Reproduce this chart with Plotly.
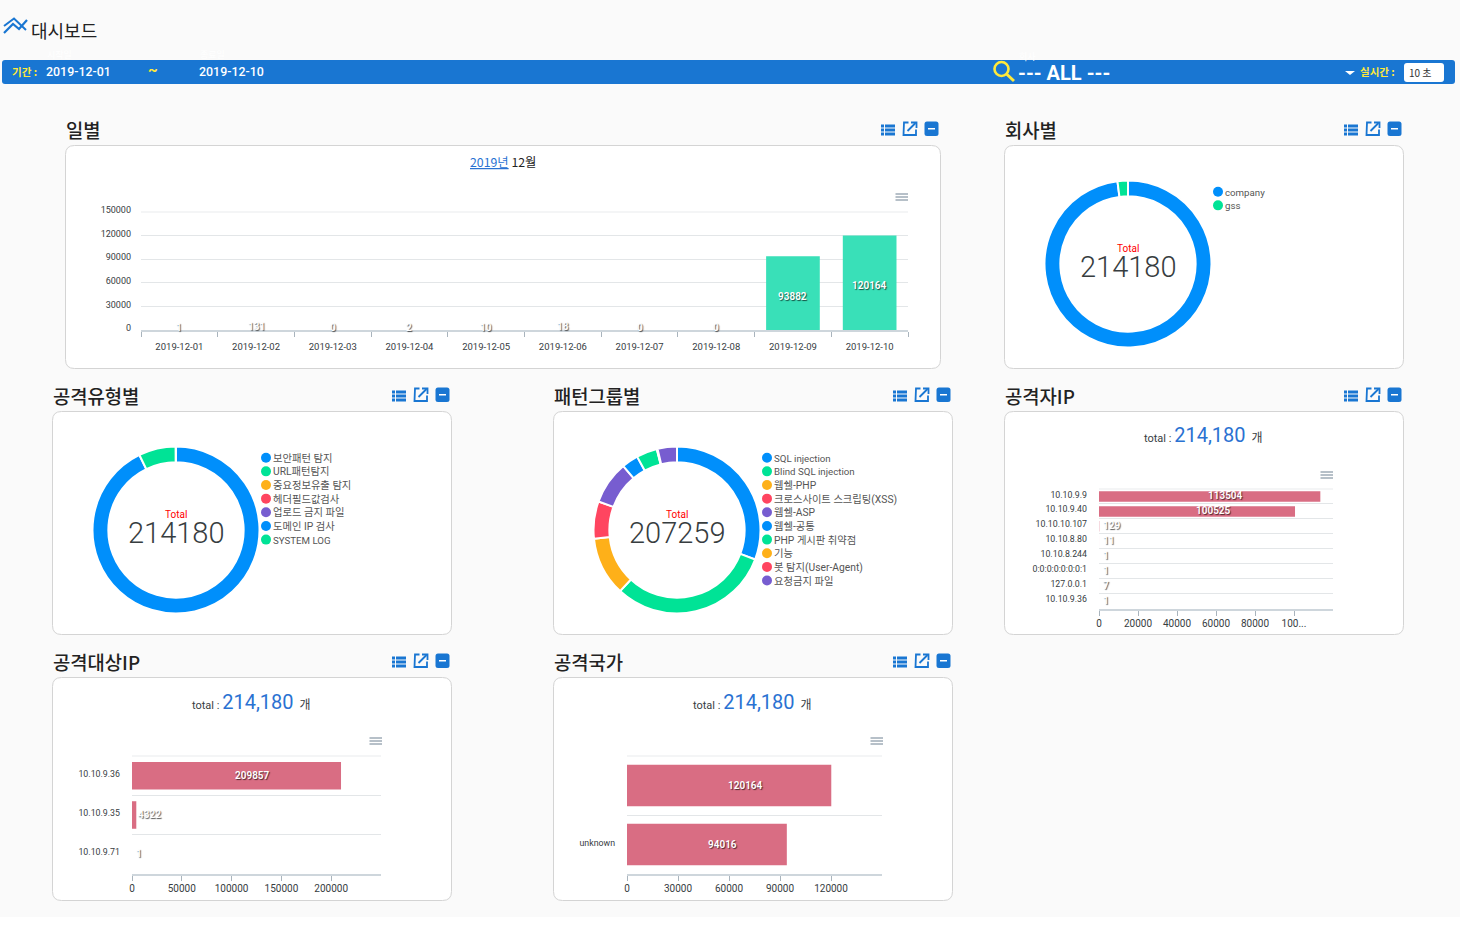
"""Security dashboard: daily, company, attack type, pattern, attacker, target and country panels."""
import plotly.graph_objects as go

WIDTH = 1460
HEIGHT = 926
FONT = "Roboto, 'Noto Sans CJK KR', sans-serif"
KR_FONT = "'Noto Sans CJK KR', Roboto, sans-serif"

BLUE = '#008FFB'
GREEN = '#00E396'
ORANGE = '#FEB019'
RED = '#FF4560'
PURPLE = '#775DD0'
PALETTE = [BLUE, GREEN, ORANGE, RED, PURPLE]
BAR_GREEN = 'rgba(55, 224, 183, 0.99)'  # not quite opaque, so tiny bars are not widened to 1px
BAR_PINK = 'rgba(217, 107, 130, 0.99)'
BANNER = '#1976D2'
YELLOW = '#FFE93B'
TEXT = '#373D3F'
GRID = '#E3E6E8'
AXIS = '#CED6DC'
BORDER = '#D4D4D4'

# Data
total_count = 214180

day_labels = ['2019-12-01', '2019-12-02', '2019-12-03', '2019-12-04', '2019-12-05',
              '2019-12-06', '2019-12-07', '2019-12-08', '2019-12-09', '2019-12-10']
day_values = [1, 131, 0, 2, 10, 18, 0, 0, 93882, 120164]
day_ticks = [0, 30000, 60000, 90000, 120000, 150000]

company_labels = ['company', 'gss']
company_values = [209857, 4323]

attack_labels = ['보안패턴 탐지', 'URL패턴탐지', '중요정보유출 탐지', '헤더필드값검사',
                 '업로드 금지 파일', '도메인 IP 검사', 'SYSTEM LOG']
attack_values = [198720, 15390, 40, 12, 8, 6, 4]

pattern_labels = ['SQL injection', 'Blind SQL injection', '웹쉘-PHP', '크로스사이트 스크립팅(XSS)',
                  '웹쉘-ASP', '웹쉘-공통', 'PHP 게시판 취약점', '기능', '봇 탐지(User-Agent)', '요청금지 파일']
pattern_values = [63730, 64650, 23600, 14970, 17270, 6620, 8350, 170, 120, 7779]

source_ips = ['10.10.9.9', '10.10.9.40', '10.10.10.107', '10.10.8.80',
              '10.10.8.244', '0:0:0:0:0:0:0:1', '127.0.0.1', '10.10.9.36']
source_values = [113504, 100525, 129, 11, 1, 1, 7, 1]
source_ticks = [0, 20000, 40000, 60000, 80000, 100000]
source_tick_labels = ['0', '20000', '40000', '60000', '80000', '100...']

target_ips = ['10.10.9.36', '10.10.9.35', '10.10.9.71']
target_values = [209857, 4322, 1]
target_ticks = [0, 50000, 100000, 150000, 200000]

country_labels = [' ', 'unknown']
country_values = [120164, 94016]
country_ticks = [0, 30000, 60000, 90000, 120000]


def px(x):
    """Pixel column to paper fraction."""
    return x / WIDTH


def py(y):
    """Pixel row (from the top) to paper fraction."""
    return 1 - y / HEIGHT


shapes = []
annotations = []


def round_rect(x0, y0, x1, y1, r):
    """Return an SVG path for a rounded rectangle given in pixels."""
    return (f'M {px(x0 + r)} {py(y0)} L {px(x1 - r)} {py(y0)} Q {px(x1)} {py(y0)} {px(x1)} {py(y0 + r)} '
            f'L {px(x1)} {py(y1 - r)} Q {px(x1)} {py(y1)} {px(x1 - r)} {py(y1)} '
            f'L {px(x0 + r)} {py(y1)} Q {px(x0)} {py(y1)} {px(x0)} {py(y1 - r)} '
            f'L {px(x0)} {py(y0 + r)} Q {px(x0)} {py(y0)} {px(x0 + r)} {py(y0)} Z')


def add_path(points, color, width=0, fill=None):
    """Add a path through pixel points. Closed and filled when fill is given."""
    path = 'M ' + ' L '.join(f'{px(x)} {py(y)}' for x, y in points)
    if fill:
        path += ' Z'
    shapes.append(dict(type='path', xref='paper', yref='paper', path=path, layer='above',
                       line=dict(color=color, width=width), fillcolor=fill))


def add_box(x0, y0, x1, y1, fill, radius=0, line=None, line_width=0, layer='below'):
    """Add a (rounded) rectangle given in pixels."""
    shapes.append(dict(type='path', xref='paper', yref='paper', layer=layer,
                       path=round_rect(x0, y0, x1, y1, radius), fillcolor=fill,
                       line=dict(color=line or fill, width=line_width)))


def add_text(x, y, text, size=10, color=TEXT, anchor='left', family=FONT, weight=None):
    """Add a text label at a pixel position."""
    font = dict(family=family, size=size, color=color)
    if weight:
        font['weight'] = weight
    annotations.append(dict(x=px(x), y=py(y), xref='paper', yref='paper', text=text, showarrow=False,
                            xanchor=anchor, yanchor='middle', borderpad=0, borderwidth=0, font=font))


def add_bar_label(axis, x, y, value, anchor='center', xshift=0, yshift=0):
    """Add a shadowed data label, placed on the chart's own axes."""
    annotations.append(dict(x=x, y=y, xref=f'x{axis}', yref=f'y{axis}', text=str(value), showarrow=False,
                            xanchor=anchor, yanchor='middle', xshift=xshift, yshift=yshift,
                            font=dict(family=FONT, size=10, color='white', weight=600,
                                      shadow='1px 1px 1px rgba(0,0,0,0.65)')))


def add_menu(right, y):
    """Add the small hamburger icon of a chart."""
    for offset in [0, 3, 6]:
        add_path([(right - 12.5, y + offset), (right, y + offset)], '#6E8192', 1)


def add_panel(x0, y0, x1, y1, title):
    """Add a card with its title and its three header icons."""
    add_box(x0, y0, x1, y1, 'white', radius=9, line=BORDER, line_width=1)
    add_text(x0 + 0.5, y0 - 16.5, title, size=18.8, color='#222222', family=KR_FONT, weight=500)

    # list icon
    left = x1 - 59.5
    top = y0 - 21
    for row in range(3):
        row_y = top + row * 4
        add_box(left, row_y, left + 3, row_y + 3, BANNER, layer='above')
        add_box(left + 4, row_y, left + 14, row_y + 3, BANNER, layer='above')

    # external link icon
    left = x1 - 38
    top = y0 - 24
    add_path([(left + 6, top + 1), (left + 1.5, top + 1), (left + 1, top + 13.5), (left + 13.5, top + 13.5),
              (left + 13.5, top + 8)], BANNER, 1.8)
    add_path([(left + 5, top + 9.5), (left + 13, top + 1.5)], BANNER, 1.8)
    add_path([(left + 8.5, top + 1), (left + 14, top + 1), (left + 14, top + 6.5)], BANNER, 1.8)

    # collapse icon
    left = x1 - 16
    add_box(left, top, left + 14, top + 14.5, BANNER, radius=2.5, layer='above')
    add_box(left + 3.5, top + 6.5, left + 10.5, top + 8, 'white', layer='above')


def add_legend(x, y, labels):
    """Add a column of round legend entries."""
    for i, label in enumerate(labels):
        row_y = y + i * 13.65
        shapes.append(dict(type='circle', xref='paper', yref='paper', layer='above',
                           x0=px(x - 5), x1=px(x + 5), y0=py(row_y + 5), y1=py(row_y - 5),
                           fillcolor=PALETTE[i % 5], line=dict(width=0)))
        size = 9.7 if label.isascii() else 10.3
        add_text(x + 7, row_y + 0.5, label, size=size, color='#555555')


def add_donut(fig, cx, cy, labels, values, total):
    """Add a donut centred on a pixel position, with its total in the hole."""
    r = 83.5
    colors = [PALETTE[i % 5] for i in range(len(values))]
    fig.add_trace(go.Pie(labels=labels, values=values, sort=False, direction='clockwise', hole=0.81,
                         domain=dict(x=[px(cx - r), px(cx + r)], y=[py(cy + r), py(cy - r)]),
                         marker=dict(colors=colors, line=dict(color='white', width=2)),
                         textinfo='none', showlegend=False, hoverinfo='label+value'))
    add_text(cx, cy - 16, 'Total', size=10, color='#FF0000', anchor='center')
    add_text(cx, cy + 3, str(total), size=29, anchor='center', weight=300)


def add_hbar(fig, layout, axis, cats, vals, tickvals, ticktext, max_x, box):
    """Add one horizontal bar chart into the pixel box (left, top, right, bottom)."""
    left, top, right, bottom = box
    fig.add_trace(go.Bar(y=cats, x=vals, orientation='h', marker=dict(color=BAR_PINK, line=dict(width=0)),
                         xaxis=f'x{axis}', yaxis=f'y{axis}', showlegend=False, hoverinfo='x+y'))
    for cat, val in zip(cats, vals):
        if val > max_x * 0.05:
            add_bar_label(axis, val / 2, cat, val, xshift=16, yshift=0.5)
        else:
            add_bar_label(axis, val / 2, cat, val, anchor='left', xshift=2, yshift=0.5)
    layout[f'xaxis{axis}'] = dict(domain=[px(left), px(right)], range=[0, max_x], anchor=f'y{axis}',
                                  tickmode='array', tickvals=tickvals, ticktext=ticktext,
                                  showgrid=False, zeroline=False, showline=True, linecolor=AXIS, linewidth=2,
                                  ticks='outside', ticklen=5, tickcolor='#A9B4BD', tickwidth=1,
                                  ticklabelstandoff=-1, tickfont=dict(family=FONT, size=10, color=TEXT))
    layout[f'yaxis{axis}'] = dict(domain=[py(bottom), py(top)], anchor=f'x{axis}', type='category',
                                  categoryorder='array', categoryarray=cats, autorange='reversed',
                                  showgrid=True, gridcolor=GRID, gridwidth=1, tickson='boundaries',
                                  ticks='', showline=False, zeroline=False, ticklabelstandoff=11,
                                  ticklabelshift=2, tickfont=dict(family=FONT, size=8.8, color=TEXT))
    add_path([(left, top), (right, top)], '#F4F5F6', 2)


def total_line(cx, y):
    """Add the 'total : 214,180 개' line of a bar chart card."""
    add_text(cx, y, ("<span style='font-size:11px'>total : </span>"
                     f"<span style='font-size:20px;color:#2A72D2'>{total_count:,}</span>"
                     "<span style='font-size:12px'>  개</span>"), size=11, anchor='center')


fig = go.Figure()
layout = {}

# page and banner
add_box(0, 0, WIDTH, 917, '#FAFAFA')
add_path([(4, 33), (13, 24), (19, 29), (27, 20)], BANNER, 2.2)
add_path([(4, 26), (14, 18.5), (26, 30)], BANNER, 2)
add_text(31, 29.5, '대시보드', size=18, color='#222222', family=KR_FONT)
add_box(2, 60, 1455, 84, BANNER, radius=3)
add_text(47, 54, '시작일', size=9, color='white', family=KR_FONT)
add_text(200, 54, '종료일', size=9, color='white', family=KR_FONT)
add_text(1019, 56, '회사', size=9, color='white', family=KR_FONT)
add_text(12, 71.5, '기간 :', size=10.5, color=YELLOW, family=KR_FONT, weight=700)
add_text(46, 71.5, '2019-12-01', size=12.4, color='white', weight=500)
add_text(148, 70, '~', size=15, color=YELLOW, weight=700)
add_text(199, 71.5, '2019-12-10', size=12.4, color='white', weight=500)
add_text(1018, 72.5, '--- ALL ---', size=20, color='white', weight=700)
shapes.append(dict(type='circle', xref='paper', yref='paper', layer='above', x0=px(994.5), x1=px(1008.5),
                   y0=py(76), y1=py(62), line=dict(color=YELLOW, width=2.6)))
add_path([(1006.5, 74), (1014, 81)], YELLOW, 3)
add_path([(1345, 71), (1355, 71), (1350, 75)], 'white', 0, fill='white')
add_text(1360, 71.5, '실시간 :', size=10.5, color=YELLOW, family=KR_FONT, weight=700)
add_box(1404, 63, 1444, 82, 'white', radius=3)
add_text(1409, 72, '10 초', size=10, color='#333333', family=KR_FONT)

# cards
add_panel(65.5, 145.5, 940.5, 368.5, '일별')
add_panel(1004.5, 145.5, 1403.5, 368.5, '회사별')
add_panel(52.5, 411.5, 451.5, 634.5, '공격유형별')
add_panel(553.5, 411.5, 952.5, 634.5, '패턴그룹별')
add_panel(1004.5, 411.5, 1403.5, 634.5, '공격자IP')
add_panel(52.5, 677.5, 451.5, 900.5, '공격대상IP')
add_panel(553.5, 677.5, 952.5, 900.5, '공격국가')

# daily bars
fig.add_trace(go.Bar(x=day_labels, y=day_values, marker=dict(color=BAR_GREEN, line=dict(width=0)),
                     xaxis='x1', yaxis='y1', showlegend=False, hoverinfo='x+y'))
for day, val in zip(day_labels, day_values):
    add_bar_label(1, day, val / 2, val, yshift=-3 if val > 5000 else 3)
layout['xaxis1'] = dict(domain=[px(141), px(908)], anchor='y1', type='category', tickson='boundaries',
                        showgrid=False, zeroline=False, showline=True, linecolor=AXIS, linewidth=2,
                        ticks='outside', ticklen=5, tickcolor='#A9B4BD', tickwidth=1, ticklabelstandoff=7,
                        tickfont=dict(family=FONT, size=9.5, color=TEXT))
layout['yaxis1'] = dict(domain=[py(330), py(212)], anchor='x1', range=[0, 150000], tickmode='array',
                        tickvals=day_ticks, ticktext=[str(t) for t in day_ticks], showgrid=True, gridcolor=GRID,
                        gridwidth=1, zeroline=False, showline=False, ticks='', ticklabelstandoff=9,
                        ticklabelshift=-2, tickfont=dict(family=FONT, size=9, color=TEXT))
add_path([(141, 212), (908, 212)], '#F4F5F6', 2)
add_text(502.5, 161.5, "<span style='color:#2A72D2'><u>2019년</u></span> 12월", size=12.3, color='#222222',
         anchor='center', family=KR_FONT)
add_menu(908, 194)

# donuts
add_donut(fig, 1128, 264, company_labels, company_values, sum(company_values))
add_legend(1218, 191.7, company_labels)
add_donut(fig, 176, 530, attack_labels, attack_values, sum(attack_values))
add_legend(266, 457.7, attack_labels)
add_donut(fig, 677, 530, pattern_labels, pattern_values, sum(pattern_values))
add_legend(767, 457.7, pattern_labels)

# horizontal bars
add_hbar(fig, layout, 2, source_ips, source_values, source_ticks, source_tick_labels, 120000,
         (1099, 489, 1333, 609))
total_line(1203, 435.5)
add_menu(1333, 472)

add_hbar(fig, layout, 3, target_ips, target_values, target_ticks, [str(t) for t in target_ticks], 250000,
         (132, 756, 381, 874))
total_line(251.5, 701.5)
add_menu(382, 738)

add_hbar(fig, layout, 4, country_labels, country_values, country_ticks, [str(t) for t in country_ticks], 150000,
         (627, 756, 882, 874))
total_line(752.5, 701.5)
add_menu(883, 738)

fig.update_layout(width=WIDTH, height=HEIGHT, margin=dict(l=0, r=0, t=0, b=0, autoexpand=False), autosize=False,
                  paper_bgcolor='white', plot_bgcolor='rgba(0,0,0,0)', bargap=0.3, showlegend=False,
                  font=dict(family=FONT), shapes=shapes, annotations=annotations, **layout)

fig.write_html("out.html", config={'displayModeBar': False},
               post_script="document.body.style.margin='0';document.documentElement.style.overflow='hidden';")
